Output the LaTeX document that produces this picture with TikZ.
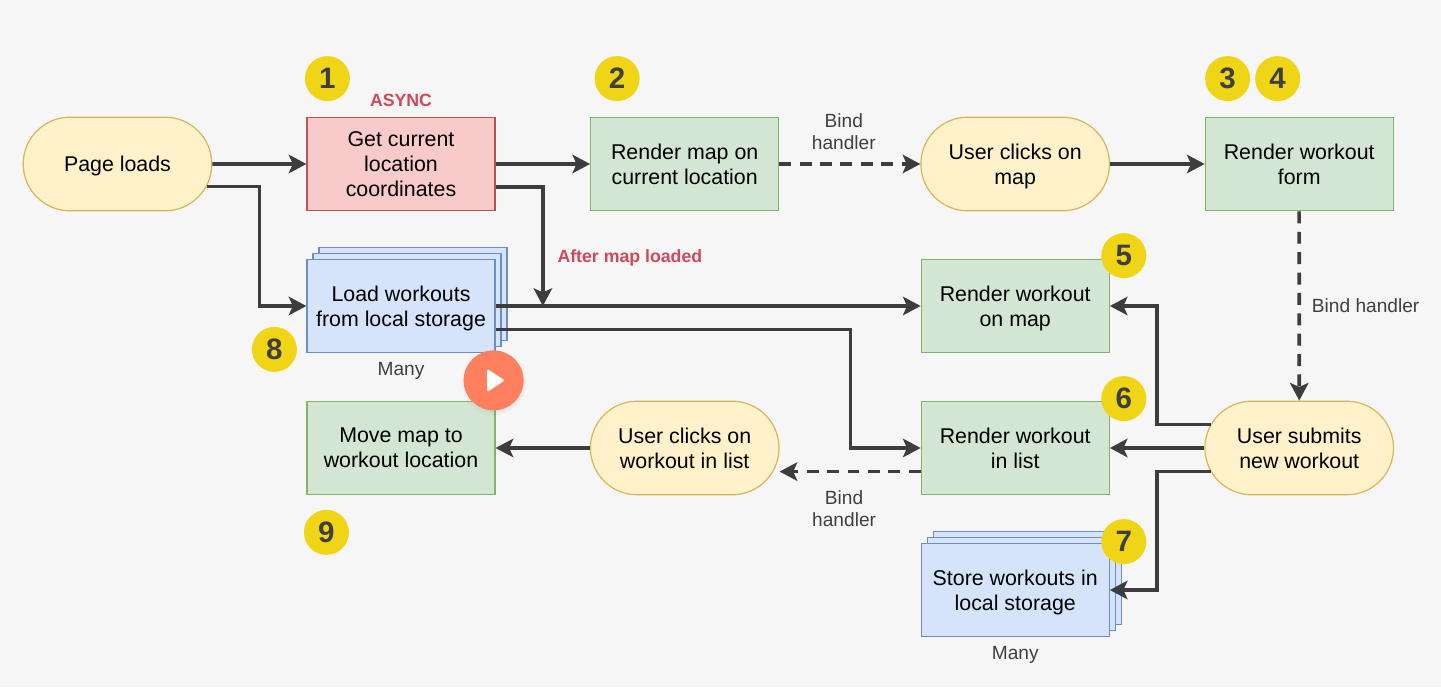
\documentclass[tikz,border=0pt]{standalone}
\usepackage{fontspec}
\setmainfont{Liberation Sans}
\usetikzlibrary{arrows.meta,backgrounds,calc,positioning,shadows,shapes.misc}
\definecolor{pagebg}{HTML}{F6F6F6}
\definecolor{wirecol}{HTML}{3D3D3D}
\definecolor{notecol}{HTML}{3F3F3F}
\definecolor{redcol}{HTML}{D0485A}
\definecolor{badgecol}{HTML}{F0D516}
\definecolor{playcol}{HTML}{FF7F5F}
\tikzset{
    flow diagram/.style = {>={Stealth[length=4.4mm, width=4.6mm, inset=1mm]}},
    line/.style      = {line width=2.5pt, draw=wirecol},
    dashline/.style  = {line, dash pattern=on 8.5pt off 6pt},
    block/.style     = {draw, line width=0.85pt, minimum height=2.34cm, minimum width=4.7cm,
                        align=center, text depth=0pt, font=\fontsize{15.2}{17.8}\selectfont},
    greenblock/.style = {block, fill={rgb,255:red,211;green,230;blue,211},
                         draw={rgb,255:red,130;green,179;blue,102}},
    redblock/.style  = {block, fill={rgb,255:red,248;green,202;blue,202},
                        draw={rgb,255:red,184;green,84;blue,80}},
    pill/.style      = {block, rounded rectangle, minimum width=4.95cm,
                        fill={rgb,255:red,255;green,241;blue,201},
                        draw={rgb,255:red,214;green,182;blue,86}},
    stack/.style     = {block, fill={rgb,255:red,213;green,228;blue,250},
                        draw={rgb,255:red,108;green,142;blue,191},
                        double copy shadow={shadow xshift=0.15cm, shadow yshift=0.15cm,
                            opacity=1, fill={rgb,255:red,213;green,228;blue,250},
                            draw={rgb,255:red,108;green,142;blue,191}}},
    note/.style      = {align=center, text=notecol, font=\fontsize{13.6}{15.6}\selectfont},
    alert/.style     = {text=redcol, font=\fontsize{12.6}{15}\selectfont\bfseries},
    badge/.style     = {circle, fill=badgecol, minimum size=1.125cm, inner sep=0pt,
                        text=notecol, font=\fontsize{21}{24}\selectfont\bfseries}
}
\begin{document}
\begin{tikzpicture}[flow diagram]

% Page background, fixes the margins
\fill[pagebg] (-2.9375,4.1) rectangle (33.0875,-13.075);
\useasboundingbox (-2.9375,4.1) rectangle (33.0875,-13.075);

% Top row
\node[pill] (page) {Page loads};
\node[redblock, right=2.35cm of page] (async) {Get current\\location\\coordinates};
\node[greenblock, right=2.3625cm of async] (map) {Render map on\\current location};
\node[pill, right=3.525cm of map] (clickmap) {User clicks on\\map};
\node[greenblock, right=2.3625cm of clickmap] (form) {Render workout\\form};

% Middle rows
\node[stack, below=1.18cm of async] (load) {Load workouts\\from local storage};
\node[greenblock, below=1.18cm of clickmap] (onmap) {Render workout\\on map};
\node[greenblock, below=1.18cm of onmap] (list) {Render workout\\in list};
\node[pill, right=2.3625cm of list] (submit) {User submits\\new workout};
\node[greenblock, below=1.18cm of load] (move) {Move map to\\workout location};
\node[pill, left=3.525cm of list] (clicklist) {User clicks on\\workout in list};
\node[stack, below=1.18cm of list] (store) {Store workouts in\\local storage};

% Bend points
\coordinate (jogA) at ($(page.east)!0.5!(async.west)$);
\coordinate (jogB) at ($(async.east)!0.5!(map.west)$);
\coordinate (jogC) at ($(onmap.east)!0.5!(submit.west)$);
\coordinate (jogD) at ($(list.west)+(-1.75,0)$);

% Connectors
\draw[->, line] (page) -- (async);
\draw[->, line] (page.-14.7) -| (jogA |- load.west) -- (load.west);
\draw[->, line] (async) -- (map);
\draw[->, line] ([yshift=-0.58cm]async.east) -| (jogB |- load.east);
\draw[->, dashline] (map) -- (clickmap);
\draw[->, line] (clickmap) -- (form);
\draw[->, dashline] (form) -- (submit);
\draw[->, line] (load.east) -- (onmap.west);
\draw[->, line] ([yshift=-0.59cm]load.east) -| (jogD) -- (list.west);
\draw[->, line] (submit.165) -| (jogC |- onmap.east) -- (onmap.east);
\draw[->, line] (submit) -- (list);
\draw[->, line] (submit.195) -| (jogC |- store.east) -- (store.east);
\draw[->, dashline] ([yshift=-0.59cm]list.west) -- ([yshift=-0.59cm]clicklist.east);
\draw[->, line] (clicklist) -- (move);

% Labels
\node[alert, above=0.12cm of async] (asynclabel) {ASYNC};
\node[alert] (loadedlabel) at ($(jogB |- load.east)+(2.175,1.2)$) {After map loaded};
\node[note] (bindA) at ($($(map.east)!0.5!(clickmap.west)$)+(-0.15,0.8)$) {Bind\\handler};
\node[note] (bindB) at ($(form.south)!0.5!(submit.north)+(1.66,0)$) {Bind handler};
\node[note] (bindC) at ($($(clicklist.east)!0.5!(list.west)$)+(-0.15,-1.525)$) {Bind\\handler};
\node[note, below=0.1cm of load] (manyA) {Many};
\node[note, below=0.1cm of store] (manyB) {Many};

% Step numbers
\node[badge] (b1) at ($(async.north west)+(0.525,0.95)$) {1};
\node[badge] (b2) at ($(map.north west)+(0.675,0.95)$) {2};
\node[badge] (b3) at ($(form.north west)+(0.575,0.95)$) {3};
\node[badge] (b4) at ($(b3)+(1.25,0)$) {4};
\node[badge] (b5) at ($(onmap.north east)+(0.35,0.075)$) {5};
\node[badge] (b6) at ($(list.north east)+(0.35,0.05)$) {6};
\node[badge] (b7) at ($(store.north east)+(0.35,0.025)$) {7};
\node[badge] (b8) at ($(load.south west)+(-0.8,0.1)$) {8};
\node[badge] (b9) at ($(move.south west)+(0.5,-0.925)$) {9};

% Play button
\node[circle, fill=playcol, minimum size=1.5cm, inner sep=0pt,
      circular drop shadow={shadow xshift=0pt, shadow yshift=-0.05cm, opacity=0.12}] (play)
    at ($(load.south east)+(-0.05,-0.675)$) {};
\fill[white, rounded corners=1pt] ($(play)+(-0.16,0.29)$) -- ($(play)+(0.28,0)$)
    -- ($(play)+(-0.16,-0.29)$) -- cycle;

\end{tikzpicture}
\end{document}
